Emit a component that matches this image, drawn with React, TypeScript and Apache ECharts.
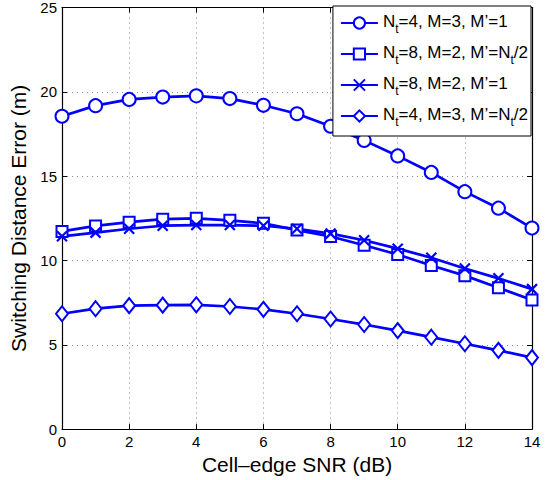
import React, { useEffect, useRef } from "react";
import * as echarts from "echarts";

const snr = [0, 1, 2, 3, 4, 5, 6, 7, 8, 9, 10, 11, 12, 13, 14];
const s1 = [18.55, 19.18, 19.55, 19.69, 19.76, 19.6, 19.2, 18.7, 17.96, 17.12, 16.2, 15.22, 14.08, 13.1, 11.92];
const s2 = [11.72, 12.05, 12.27, 12.45, 12.5, 12.38, 12.2, 11.8, 11.42, 10.9, 10.35, 9.7, 9.1, 8.38, 7.66];
const s3 = [11.43, 11.65, 11.88, 12.06, 12.1, 12.1, 12.06, 11.88, 11.59, 11.2, 10.7, 10.16, 9.52, 8.94, 8.3];
const s4 = [6.84, 7.14, 7.32, 7.35, 7.37, 7.27, 7.1, 6.84, 6.53, 6.2, 5.84, 5.45, 5.06, 4.67, 4.24];
const names = ["s1", "s2", "s3", "s4"];
const legendRich = [
  "{n|N}{s|t}{n|=4, M=3, M\u2019=1}",
  "{n|N}{s|t}{n|=8, M=2, M\u2019=N}{s|t}{n|/2}",
  "{n|N}{s|t}{n|=8, M=2, M\u2019=1}",
  "{n|N}{s|t}{n|=4, M=3, M\u2019=N}{s|t}{n|/2}",
];
const xTitle = "Cell\u2013edge SNR (dB)";
const yTitle = "Switching Distance Error (m)";

const FONT = "'Liberation Sans', Arial, Helvetica, sans-serif";
const BLUE = "#0000ff";

export default function App() {
  const ref = useRef<HTMLDivElement>(null);
  useEffect(() => {
    const chart = echarts.init(ref.current!, undefined, { renderer: "svg" });
    const data = [s1, s2, s3, s4];
    const symbols = ["emptyCircle", "emptyRect", "path://M0,0L10,10M10,0L0,10", "emptyDiamond"];
    const sizes: any[] = [13, 11, 10, [12, 15]];
    const series = data.map((d, i) => ({
      name: names[i],
      type: "line",
      data: d.map((v, j) => [snr[j], v]),
      symbol: symbols[i],
      symbolSize: sizes[i],
      showAllSymbol: true,
      color: BLUE,
      lineStyle: { color: BLUE, width: 2.7 },
      itemStyle: { color: BLUE, borderColor: BLUE, borderWidth: 2.2 },
      z: 3,
    }));
    const axisCommon = {
      axisLine: { onZero: false, lineStyle: { color: "#000", width: 1.2 } },
      axisTick: { inside: true, length: 5, lineStyle: { color: "#000" } },
    };
    chart.setOption({
      animation: false,
      backgroundColor: "#fff",
      textStyle: { fontFamily: FONT },
      grid: { left: 62, right: 18, top: 7, bottom: 48 },
      legend: {
        orient: "vertical",
        right: 19,
        top: 6,
        backgroundColor: "#fff",
        borderColor: "#000",
        borderWidth: 1,
        borderRadius: 0,
        padding: [7, 3, 8, 7],
        itemGap: 9,
        itemWidth: 37,
        itemHeight: 14,
        data: names,
        formatter: (n: string) => legendRich[names.indexOf(n)],
        textStyle: {
          fontFamily: FONT,
          color: "#000",
          rich: {
            n: { fontSize: 17, fontFamily: FONT, color: "#000", lineHeight: 20, verticalAlign: "top" },
            s: { fontSize: 12, fontFamily: FONT, color: "#000", lineHeight: 20, verticalAlign: "top", padding: [10, 0, 0, 0] },
          },
        },
      },
      xAxis: [
        {
          type: "value",
          min: 0,
          max: 14,
          interval: 2,
          name: xTitle,
          nameLocation: "middle",
          nameGap: 20,
          nameTextStyle: { fontSize: 21, color: "#000", fontFamily: FONT },
          ...axisCommon,
          axisLabel: { color: "#000", fontSize: 15, margin: 5, fontFamily: FONT },
          splitLine: { show: true, lineStyle: { color: "#888", type: [1, 4], width: 1 } },
        },
        {
          type: "value",
          position: "top",
          min: 0,
          max: 14,
          interval: 2,
          ...axisCommon,
          axisLabel: { show: false },
          splitLine: { show: false },
        },
      ],
      yAxis: [
        {
          type: "value",
          min: 0,
          max: 25,
          interval: 5,
          name: yTitle,
          nameLocation: "middle",
          nameGap: 29,
          nameTextStyle: { fontSize: 21, color: "#000", fontFamily: FONT },
          ...axisCommon,
          axisLabel: { color: "#000", fontSize: 15, margin: 5, fontFamily: FONT },
          splitLine: { show: true, lineStyle: { color: "#888", type: [1, 4], width: 1 } },
        },
        {
          type: "value",
          position: "right",
          min: 0,
          max: 25,
          interval: 5,
          ...axisCommon,
          axisLabel: { show: false },
          splitLine: { show: false },
        },
      ],
      series,
    });
    return () => chart.dispose();
  }, []);
  return (
    <div
      ref={ref}
      style={{ position: "absolute", left: 0, top: 0, width: 550, height: 480 }}
    />
  );
}
